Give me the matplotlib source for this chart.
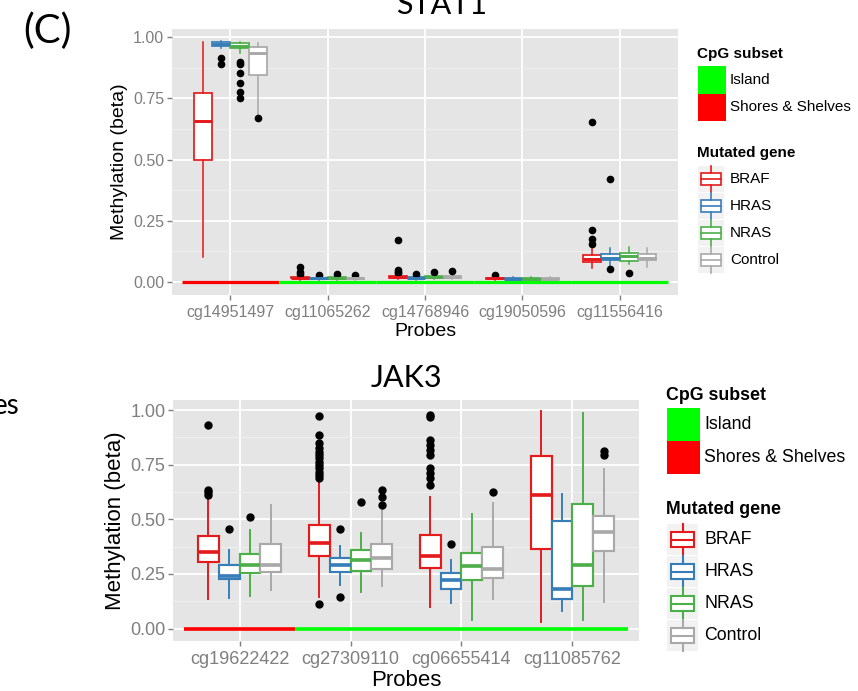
import numpy as np
import matplotlib
matplotlib.use('Agg')
import matplotlib.pyplot as plt
from matplotlib.patches import Rectangle

plt.rcParams['font.family'] = ['Liberation Sans', 'DejaVu Sans']

genes = ['BRAF', 'HRAS', 'NRAS', 'Control']
gene_colors = ['#E41A1C', '#377EB8', '#4DAF4A', '#A9A9A9']
cpg_labels = ['Island', 'Shores & Shelves']
cpg_colors = {'Island': '#00FF00', 'Shores & Shelves': '#FF0000'}

# ---- STAT1 ----
stat1_probes = ['cg14951497', 'cg11065262', 'cg14768946', 'cg19050596', 'cg11556416']
stat1_cpg = ['Shores & Shelves', 'Island', 'Island', 'Island', 'Island']
# [whislo, q1, med, q3, whishi] per probe, per gene (BRAF, HRAS, NRAS, Control)
stat1_boxes = [
    [[0.103, 0.498, 0.658, 0.773, 0.980], [0.955, 0.962, 0.970, 0.978, 0.985],
     [0.936, 0.954, 0.965, 0.974, 0.980], [0.680, 0.845, 0.936, 0.958, 0.974]],
    [[0.010, 0.015, 0.018, 0.022, 0.028], [0.008, 0.012, 0.015, 0.018, 0.022],
     [0.010, 0.013, 0.016, 0.019, 0.024], [0.008, 0.012, 0.015, 0.018, 0.022]],
    [[0.012, 0.018, 0.022, 0.026, 0.032], [0.010, 0.015, 0.018, 0.021, 0.026],
     [0.012, 0.016, 0.020, 0.023, 0.028], [0.012, 0.016, 0.020, 0.023, 0.028]],
    [[0.008, 0.012, 0.015, 0.018, 0.022], [0.008, 0.011, 0.014, 0.017, 0.020],
     [0.008, 0.011, 0.014, 0.017, 0.020], [0.008, 0.011, 0.014, 0.017, 0.020]],
    [[0.056, 0.080, 0.093, 0.110, 0.144], [0.065, 0.090, 0.100, 0.113, 0.137],
     [0.072, 0.087, 0.105, 0.117, 0.144], [0.062, 0.090, 0.100, 0.113, 0.137]],
]
stat1_out = [
    [[], [0.913, 0.889], [0.897, 0.889, 0.852, 0.814, 0.776, 0.750], [0.668]],
    [[0.060, 0.042, 0.031], [0.028], [0.031], [0.028]],
    [[0.171, 0.048, 0.042, 0.037], [0.031], [0.040], [0.046]],
    [[0.029], [], [], []],
    [[0.654, 0.211, 0.177, 0.154], [0.420, 0.054], [0.035], []],
]

# ---- JAK3 ----
jak3_probes = ['cg19622422', 'cg27309110', 'cg06655414', 'cg11085762']
jak3_cpg = ['Shores & Shelves', 'Island', 'Island', 'Island']
jak3_boxes = [
    [[0.137, 0.305, 0.351, 0.424, 0.600], [0.142, 0.226, 0.240, 0.293, 0.359],
     [0.148, 0.255, 0.293, 0.339, 0.450], [0.175, 0.259, 0.293, 0.385, 0.565]],
    [[0.145, 0.333, 0.392, 0.473, 0.672], [0.201, 0.259, 0.290, 0.321, 0.379],
     [0.168, 0.264, 0.313, 0.359, 0.438], [0.194, 0.272, 0.321, 0.385, 0.550]],
    [[0.099, 0.278, 0.333, 0.430, 0.603], [0.115, 0.180, 0.221, 0.255, 0.313],
     [0.041, 0.221, 0.285, 0.346, 0.522], [0.137, 0.232, 0.272, 0.374, 0.575]],
    [[0.030, 0.362, 0.611, 0.789, 0.995], [0.079, 0.137, 0.179, 0.492, 0.615],
     [0.041, 0.194, 0.293, 0.569, 0.988], [0.122, 0.354, 0.440, 0.514, 0.730]],
]
jak3_out = [
    [[0.933, 0.634, 0.626, 0.611], [0.455], [0.510], []],
    [[0.974, 0.885, 0.850, 0.825, 0.810, 0.794, 0.779, 0.763, 0.748, 0.733,
      0.717, 0.702, 0.687, 0.113], [0.455, 0.145], [0.580], [0.634, 0.600, 0.565]],
    [[0.977, 0.966, 0.863, 0.840, 0.817, 0.794, 0.733, 0.710, 0.687, 0.656],
     [0.385], [], [0.623]],
    [[], [], [], [0.814, 0.794]],
]

W, H = 858, 691
fig = plt.figure(figsize=(W / 100, H / 100), dpi=100)


def px_axes(left, top, right, bottom):
    return fig.add_axes([left / W, 1 - bottom / H, (right - left) / W, (bottom - top) / H])


def draw_panel(ax, probes, cpg, boxes, outs, ylim, tick_fs, lw, msize, cpg_lw):
    ax.set_facecolor('#E5E5E5')
    for s in ax.spines.values():
        s.set_visible(False)
    step = 0.1875
    for gi, col in enumerate(gene_colors):
        stats = []
        for pi in range(len(probes)):
            lo, q1, med, q3, hi = boxes[pi][gi]
            stats.append(dict(whislo=lo, q1=q1, med=med, q3=q3, whishi=hi,
                              fliers=outs[pi][gi]))
        pos = np.arange(1, len(probes) + 1) + (gi - 1.5) * step
        ax.bxp(stats, positions=pos, widths=step, patch_artist=True, showcaps=False,
               manage_ticks=False,
               boxprops=dict(facecolor='white', edgecolor=col, linewidth=lw),
               medianprops=dict(color=col, linewidth=lw * 1.7, solid_capstyle='butt'),
               whiskerprops=dict(color=col, linewidth=lw * 0.9),
               flierprops=dict(marker='o', markerfacecolor='black',
                               markeredgecolor='black', markersize=msize))
    for i, c in enumerate(cpg):
        ax.hlines(0, i + 0.5, i + 1.5, color=cpg_colors[c], linewidth=cpg_lw, zorder=1.5)
    ax.set_xlim(0.4, len(probes) + 0.6)
    ax.set_ylim(*ylim)
    ax.set_xticks(np.arange(1, len(probes) + 1))
    ax.set_xticklabels(probes)
    ax.set_yticks([0, 0.25, 0.5, 0.75, 1.0])
    ax.set_yticklabels(['0.00', '0.25', '0.50', '0.75', '1.00'])
    ax.set_yticks([0.125, 0.375, 0.625, 0.875], minor=True)
    ax.grid(True, which='major', color='white', linewidth=1.3)
    ax.grid(True, which='minor', axis='y', color='#F2F2F2', linewidth=0.6)
    ax.set_axisbelow(True)
    ax.tick_params(which='major', colors='#7F7F7F', labelcolor='#7F7F7F',
                   labelsize=tick_fs, length=3.5, width=1, pad=2)
    ax.tick_params(axis='x', which='major', pad=3.5)
    ax.tick_params(which='minor', length=0)


ax1 = px_axes(172, 29, 678, 295)
draw_panel(ax1, stat1_probes, stat1_cpg, stat1_boxes, stat1_out, (-0.053, 1.033),
           11.5, 1.25, 4.5, 2.3)
ax2 = px_axes(173, 400, 639, 641)
draw_panel(ax2, jak3_probes, jak3_cpg, jak3_boxes, jak3_out, (-0.057, 1.046),
           13, 1.55, 5, 2.6)

# overlay in pixel coordinates for texts and legends
ov = fig.add_axes([0, 0, 1, 1])
ov.set_xlim(0, W)
ov.set_ylim(H, 0)
ov.axis('off')

outer_font = ['Lato', 'DejaVu Sans']
ov.text(442, 14, 'STAT1', fontsize=22, ha='center', va='baseline', family=outer_font)
ov.text(406, 387, 'JAK3', fontsize=22, ha='center', va='baseline', family=outer_font)
ov.text(47, 31, '(C)', fontsize=29, ha='center', va='center', family=outer_font)
ov.text(20, 406, 'es', fontsize=20, ha='right', va='center', family=outer_font)
ov.text(120, 162, 'Methylation (beta)', fontsize=14, rotation=90, ha='center', va='center')
ov.text(425, 331, 'Probes', fontsize=14, ha='center', va='center')
ov.text(116, 521, 'Methylation (beta)', fontsize=16, rotation=90, ha='center', va='center')
ov.text(406, 681, 'Probes', fontsize=16, ha='center', va='center')


def draw_legend(x, y_t1, fill_w, fill_h, y_fill, y_t2, key_w, key_h, y_key, fs, lw):
    ov.text(x, y_t1, 'CpG subset', fontsize=fs, fontweight='bold', va='center')
    for i, lab in enumerate(cpg_labels):
        y = y_fill + i * fill_h
        ov.add_patch(Rectangle((x + 1, y), fill_w, fill_h, facecolor=cpg_colors[lab],
                               edgecolor='none'))
        ov.text(x + fill_w + 5, y + fill_h / 2, lab, fontsize=fs, va='center')
    ov.text(x, y_t2, 'Mutated gene', fontsize=fs, fontweight='bold', va='center')
    for i, (g, col) in enumerate(zip(genes, gene_colors)):
        y = y_key + i * (key_h + 1)
        kx = x + 1
        ov.add_patch(Rectangle((kx, y), key_w, key_h, facecolor='#F2F2F2', edgecolor='none'))
        ov.add_patch(Rectangle((kx + 0.12 * key_w, y + 0.27 * key_h), 0.76 * key_w,
                               0.46 * key_h, facecolor='white', edgecolor=col, linewidth=lw))
        ov.plot([kx + 0.12 * key_w, kx + 0.88 * key_w], [y + key_h / 2] * 2, color=col, lw=lw)
        ov.plot([kx + key_w / 2] * 2, [y, y + 0.27 * key_h], color=col, lw=lw)
        ov.plot([kx + key_w / 2] * 2, [y + 0.73 * key_h, y + key_h], color=col, lw=lw)
        ov.text(x + fill_w + 5, y + key_h / 2, g, fontsize=fs, va='center')


draw_legend(697, 54, 28, 27.5, 66, 153, 26, 26, 166, 11, 1.2)
draw_legend(666, 395, 33, 33, 408, 509, 31, 31, 524, 12.8, 1.5)

fig.savefig('out.png', dpi=100)
